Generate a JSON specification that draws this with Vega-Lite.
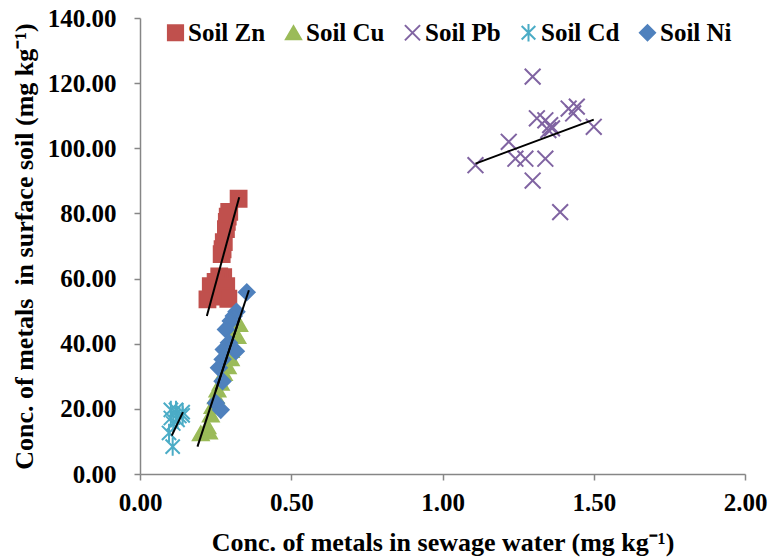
{
 "$schema": "https://vega.github.io/schema/vega-lite/v6.json",
 "width": 605,
 "height": 456,
 "autosize": {"type": "none"},
 "padding": {"left": 140, "top": 18, "right": 36, "bottom": 83},
 "background": "white",
 "config": {
  "font": "Liberation Serif",
  "view": {"stroke": null},
  "style": {
   "guide-label": {"font": "Liberation Serif", "fontWeight": "bold", "fill": "black"},
   "guide-title": {"font": "Liberation Serif", "fontWeight": "bold", "fill": "black"}
  },
  "axis": {"domainColor": "#868686", "domainWidth": 1.5, "tickColor": "#868686", "tickWidth": 1.5, "tickSize": 6, "grid": false,
   "labelFont": "Liberation Serif", "labelFontSize": 25, "labelFontWeight": "bold", "labelColor": "black",
   "titleFont": "Liberation Serif", "titleFontSize": 26, "titleFontWeight": "bold", "titleColor": "black", "labelFlush": false, "labelOverlap": false},
  "legend": {"orient": "none", "legendX": 23, "legendY": 2, "direction": "horizontal", "labelFont": "Liberation Serif", "labelFontSize": 25, "labelFontWeight": "bold", "labelColor": "black", "symbolSize": 230, "symbolStrokeWidth": 2, "columnPadding": 15, "labelOffset": 0, "padding": 0, "symbolOpacity": 1}
 },
 "datasets": {
  "points": [
   {"series": "Soil Zn", "water": 0.326, "soil": 84.5},
   {"series": "Soil Zn", "water": 0.295, "soil": 80.5},
   {"series": "Soil Zn", "water": 0.29, "soil": 79.0},
   {"series": "Soil Zn", "water": 0.287, "soil": 77.4},
   {"series": "Soil Zn", "water": 0.284, "soil": 75.2},
   {"series": "Soil Zn", "water": 0.277, "soil": 71.2},
   {"series": "Soil Zn", "water": 0.273, "soil": 69.0},
   {"series": "Soil Zn", "water": 0.27, "soil": 67.5},
   {"series": "Soil Zn", "water": 0.275, "soil": 60.4},
   {"series": "Soil Zn", "water": 0.262, "soil": 60.7},
   {"series": "Soil Zn", "water": 0.25, "soil": 59.0},
   {"series": "Soil Zn", "water": 0.234, "soil": 57.7},
   {"series": "Soil Zn", "water": 0.285, "soil": 57.7},
   {"series": "Soil Zn", "water": 0.223, "soil": 53.6},
   {"series": "Soil Zn", "water": 0.278, "soil": 54.5},
   {"series": "Soil Zn", "water": 0.292, "soil": 53.8},
   {"series": "Soil Cu", "water": 0.201, "soil": 12.5},
   {"series": "Soil Cu", "water": 0.228, "soil": 13.0},
   {"series": "Soil Cu", "water": 0.223, "soil": 14.6},
   {"series": "Soil Cu", "water": 0.234, "soil": 18.2},
   {"series": "Soil Cu", "water": 0.24, "soil": 20.8},
   {"series": "Soil Cu", "water": 0.251, "soil": 23.8},
   {"series": "Soil Cu", "water": 0.256, "soil": 25.9},
   {"series": "Soil Cu", "water": 0.267, "soil": 28.0},
   {"series": "Soil Cu", "water": 0.277, "soil": 31.0},
   {"series": "Soil Cu", "water": 0.29, "soil": 33.0},
   {"series": "Soil Cu", "water": 0.3, "soil": 35.5},
   {"series": "Soil Cu", "water": 0.3, "soil": 38.0},
   {"series": "Soil Cu", "water": 0.31, "soil": 43.0},
   {"series": "Soil Cu", "water": 0.322, "soil": 42.3},
   {"series": "Soil Cu", "water": 0.328, "soil": 46.0},
   {"series": "Soil Pb", "water": 1.298, "soil": 122.0},
   {"series": "Soil Pb", "water": 1.312, "soil": 109.2},
   {"series": "Soil Pb", "water": 1.34, "soil": 108.6},
   {"series": "Soil Pb", "water": 1.356, "soil": 107.1},
   {"series": "Soil Pb", "water": 1.362, "soil": 106.1},
   {"series": "Soil Pb", "water": 1.35, "soil": 105.6},
   {"series": "Soil Pb", "water": 1.417, "soil": 112.2},
   {"series": "Soil Pb", "water": 1.444, "soil": 112.8},
   {"series": "Soil Pb", "water": 1.432, "soil": 110.7},
   {"series": "Soil Pb", "water": 1.5, "soil": 106.6},
   {"series": "Soil Pb", "water": 1.219, "soil": 102.0},
   {"series": "Soil Pb", "water": 1.109, "soil": 94.8},
   {"series": "Soil Pb", "water": 1.241, "soil": 96.8},
   {"series": "Soil Pb", "water": 1.274, "soil": 96.8},
   {"series": "Soil Pb", "water": 1.34, "soil": 96.8},
   {"series": "Soil Pb", "water": 1.298, "soil": 90.1},
   {"series": "Soil Pb", "water": 1.389, "soil": 80.4},
   {"series": "Soil Cd", "water": 0.102, "soil": 19.7},
   {"series": "Soil Cd", "water": 0.119, "soil": 19.7},
   {"series": "Soil Cd", "water": 0.141, "soil": 19.0},
   {"series": "Soil Cd", "water": 0.102, "soil": 17.2},
   {"series": "Soil Cd", "water": 0.124, "soil": 16.6},
   {"series": "Soil Cd", "water": 0.141, "soil": 18.0},
   {"series": "Soil Cd", "water": 0.13, "soil": 17.8},
   {"series": "Soil Cd", "water": 0.11, "soil": 15.5},
   {"series": "Soil Cd", "water": 0.096, "soil": 12.6},
   {"series": "Soil Cd", "water": 0.108, "soil": 8.4},
   {"series": "Soil Ni", "water": 0.353, "soil": 55.8},
   {"series": "Soil Ni", "water": 0.319, "soil": 49.8},
   {"series": "Soil Ni", "water": 0.31, "soil": 48.5},
   {"series": "Soil Ni", "water": 0.3, "soil": 47.0},
   {"series": "Soil Ni", "water": 0.284, "soil": 44.4},
   {"series": "Soil Ni", "water": 0.294, "soil": 40.3},
   {"series": "Soil Ni", "water": 0.317, "soil": 37.7},
   {"series": "Soil Ni", "water": 0.277, "soil": 38.2},
   {"series": "Soil Ni", "water": 0.273, "soil": 35.2},
   {"series": "Soil Ni", "water": 0.261, "soil": 32.6},
   {"series": "Soil Ni", "water": 0.273, "soil": 28.5},
   {"series": "Soil Ni", "water": 0.251, "soil": 21.8},
   {"series": "Soil Ni", "water": 0.267, "soil": 19.7}
  ],
  "trends": [
   {"series": "Soil Zn", "water": 0.221, "soil": 48.5},
   {"series": "Soil Zn", "water": 0.328, "soil": 85.0},
   {"series": "Soil Cu", "water": 0.19, "soil": 8.4},
   {"series": "Soil Cu", "water": 0.33, "soil": 48.0},
   {"series": "Soil Ni", "water": 0.25, "soil": 25.5},
   {"series": "Soil Ni", "water": 0.36, "soil": 56.4},
   {"series": "Soil Cd", "water": 0.105, "soil": 11.8},
   {"series": "Soil Cd", "water": 0.142, "soil": 19.0},
   {"series": "Soil Pb", "water": 1.109, "soil": 95.3},
   {"series": "Soil Pb", "water": 1.5, "soil": 108.8}
  ]
 },
 "layer": [
  {
   "data": {"name": "points"},
   "mark": {"type": "point", "filled": true, "size": 250, "strokeWidth": 2, "opacity": 1},
   "encoding": {
    "x": {"field": "water", "type": "quantitative", "scale": {"domain": [0, 2], "nice": false, "zero": false},
     "axis": {"values": [0, 0.5, 1, 1.5, 2], "format": ".2f", "labelPadding": 10, "titlePadding": 14, "title": "Conc. of metals in sewage water (mg kg⁻¹)"}},
    "y": {"field": "soil", "type": "quantitative", "scale": {"domain": [0, 140], "nice": false, "zero": false},
     "axis": {"values": [0, 20, 40, 60, 80, 100, 120, 140], "format": ".2f", "labelPadding": 18, "titlePadding": 10, "title": "Conc. of metals\u00a0 in surface soil (mg kg⁻¹)"}},
    "color": {"field": "series", "type": "nominal", "sort": null,
     "scale": {"domain": ["Soil Zn", "Soil Cu", "Soil Pb", "Soil Cd", "Soil Ni"], "range": ["#C0504D", "#9BBB59", "#8064A2", "#4BACC6", "#4F81BD"]},
     "legend": {"title": null}},
    "stroke": {"field": "series", "type": "nominal", "sort": null,
     "scale": {"domain": ["Soil Zn", "Soil Cu", "Soil Pb", "Soil Cd", "Soil Ni"], "range": ["#C0504D", "#9BBB59", "#8064A2", "#4BACC6", "#4F81BD"]},
     "legend": {"title": null}},
    "shape": {"field": "series", "type": "nominal", "sort": null,
     "scale": {"domain": ["Soil Zn", "Soil Cu", "Soil Pb", "Soil Cd", "Soil Ni"], "range": ["square", "triangle-up", "M-1,-1L1,1M-1,1L1,-1", "M-0.9,-0.9L0.9,0.9M-0.9,0.9L0.9,-0.9M0,-1.15L0,1.15", "diamond"]},
     "legend": {"title": null}}
   }
  },
  {
   "data": {"name": "trends"},
   "mark": {"type": "line", "color": "black", "strokeWidth": 2},
   "encoding": {
    "x": {"field": "water", "type": "quantitative"},
    "y": {"field": "soil", "type": "quantitative"},
    "detail": {"field": "series", "type": "nominal"}
   }
  }
 ]
}
